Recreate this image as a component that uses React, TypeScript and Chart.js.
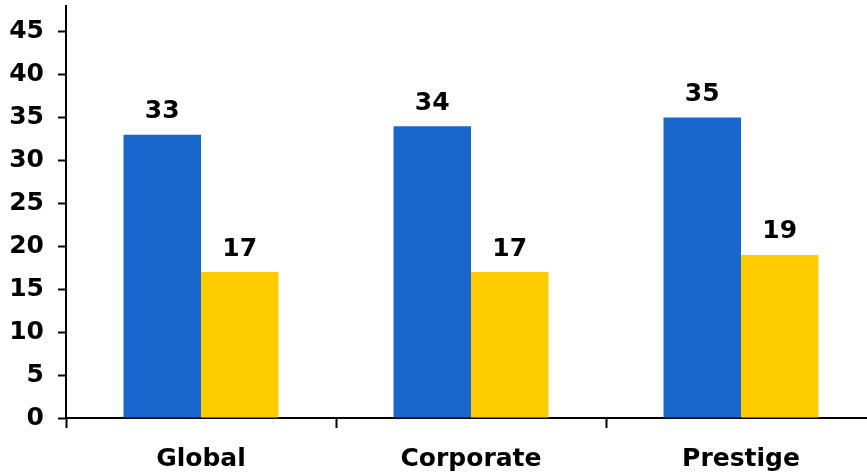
import React, { useEffect, useRef } from "react";
import { Chart, registerables } from "chart.js";

Chart.register(...registerables);

const categories = ["Global", "Corporate", "Prestige"];
const seriesA = [33, 34, 35];
const seriesB = [17, 17, 19];
const yTickStep = 5;
const yMax = 48;

const FONT = "'DejaVu Sans', Verdana, sans-serif";

const valueLabels = {
  id: "valueLabels",
  afterDatasetsDraw(chart: any) {
    const ctx = chart.ctx;
    ctx.save();
    ctx.font = `bold 25px ${FONT}`;
    ctx.fillStyle = "#000";
    ctx.textAlign = "center";
    ctx.textBaseline = "alphabetic";
    chart.data.datasets.forEach((ds: any, i: number) => {
      const meta = chart.getDatasetMeta(i);
      meta.data.forEach((el: any, j: number) => {
        ctx.fillText(String(ds.data[j]), el.x, el.y - 16.5);
      });
    });
    ctx.restore();
  },
};

export default function App() {
  const ref = useRef<HTMLCanvasElement>(null);
  useEffect(() => {
    if (!ref.current) return;
    const chart = new Chart(ref.current, {
      type: "bar",
      data: {
        labels: categories,
        datasets: [
          { data: seriesA, backgroundColor: "#1967CD", borderWidth: 0 },
          { data: seriesB, backgroundColor: "#FFCC00", borderWidth: 0 },
        ],
      },
      options: {
        responsive: false,
        animation: false,
        devicePixelRatio: 1,
        layout: { padding: { left: 0, top: 6, right: 0, bottom: 0 } },
        plugins: { legend: { display: false }, tooltip: { enabled: false } },
        datasets: { bar: { barPercentage: 1, categoryPercentage: 0.574 } },
        scales: {
          x: {
            afterFit(scale: any) {
              scale.height = 58;
              scale.paddingLeft = 0;
              scale.paddingRight = 0;
            },
            grid: {
              drawOnChartArea: false,
              drawTicks: true,
              tickLength: 10,
              tickWidth: 2,
              tickColor: "#000",
              offset: true,
            },
            border: { color: "#000", width: 2 },
            ticks: {
              color: "#000",
              font: { family: FONT, size: 25, weight: "bold" },
              padding: 16,
              maxRotation: 0,
            },
          },
          y: {
            min: 0,
            max: yMax,
            afterFit(scale: any) {
              scale.width = 66;
              scale.paddingTop = 0;
              scale.paddingBottom = 0;
            },
            grid: {
              drawOnChartArea: false,
              drawTicks: true,
              tickLength: 8,
              tickWidth: 2,
              tickColor: "#000",
            },
            border: { color: "#000", width: 2 },
            ticks: {
              stepSize: yTickStep,
              includeBounds: false,
              color: "#000",
              font: { family: FONT, size: 25, weight: "bold" },
              padding: 14,
            },
          },
        },
      },
      plugins: [valueLabels],
    } as any);
    return () => chart.destroy();
  }, []);
  return (
    <div
      style={{
        position: "fixed",
        left: 0,
        top: 0,
        width: 867,
        height: 476,
        overflow: "hidden",
        background: "#fff",
      }}
    >
      <canvas ref={ref} width={876} height={476} style={{ display: "block" }} />
    </div>
  );
}
